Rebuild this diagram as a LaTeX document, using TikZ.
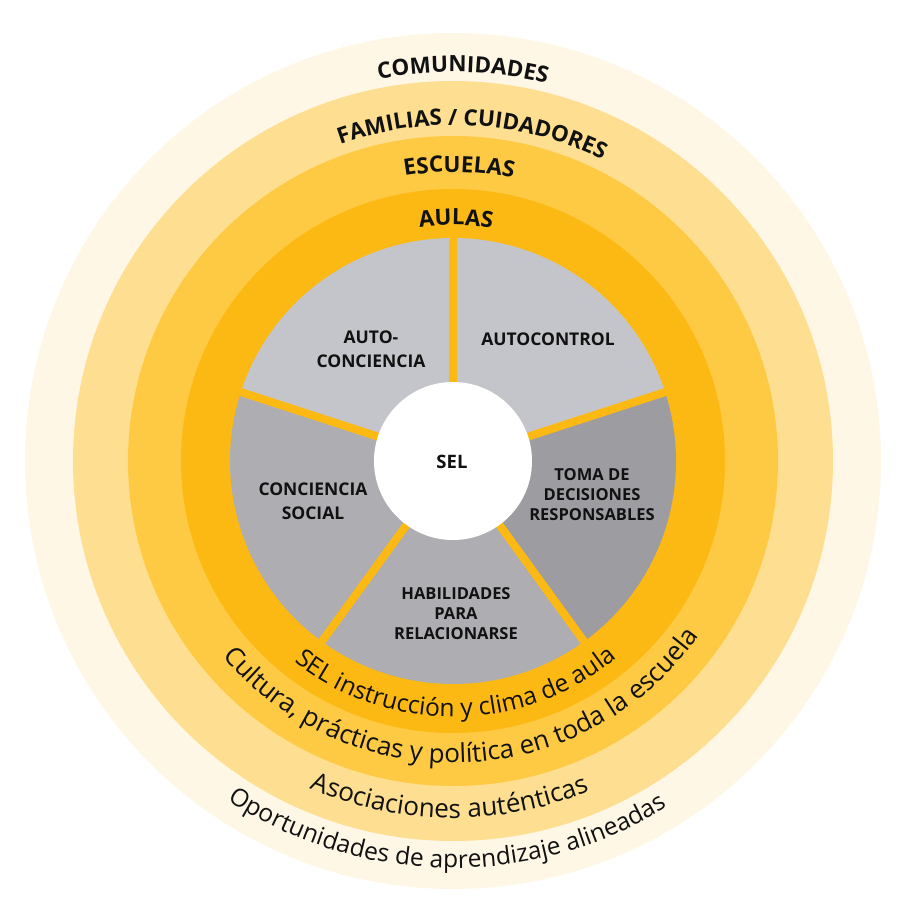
\documentclass[tikz,border=0pt]{standalone}
\usepackage{fontspec}
\setmainfont{Open Sans}
\usetikzlibrary{decorations.text}
\definecolor{ringA}{HTML}{FFF7E6}
\definecolor{ringB}{HTML}{FEDF91}
\definecolor{ringC}{HTML}{FECA44}
\definecolor{ringD}{HTML}{FDB913}
\definecolor{grayL}{HTML}{C4C5CA}
\definecolor{grayM}{HTML}{AEADB2}
\definecolor{grayD}{HTML}{9D9CA1}
\definecolor{ink}{HTML}{111111}
\newcommand\toptxt{\color{ink}\bfseries\fontsize{22.4}{22.4}\selectfont}
\newcommand\bottxt{\color{ink}\fontsize{26}{26}\selectfont}
\newcommand\bottxtsm{\color{ink}\fontsize{24.6}{24.6}\selectfont}
\begin{document}
\begin{tikzpicture}[
  lbl/.style={font=\bfseries\fontsize{17.5}{24.5}\selectfont, align=center, text=ink, inner sep=0pt},
  lbltight/.style={lbl, font=\bfseries\fontsize{16.5}{20}\selectfont},
  toparc/.style={decorate, decoration={text along path, text align=center, text={|\toptxt|#1}}},
  botarc/.style={decorate, decoration={text along path, text align=center, text={|\bottxt|#1}}},
  botarcsm/.style={decorate, decoration={text along path, text align=center, text={|\bottxtsm|#1}}}
]
\useasboundingbox (-453pt,-461pt) rectangle (453pt,461pt);
% rings
\fill[ringA] (0,0) circle[radius=428pt];
\fill[ringB] (0,0) circle[radius=380pt];
\fill[ringC] (0,0) circle[radius=325pt];
\fill[ringD] (0,0) circle[radius=272pt];
% pie slices
\fill[grayL] (0,0) -- (90:223pt) arc[start angle=90, end angle=162, radius=223pt] -- cycle;
\fill[grayL] (0,0) -- (18:223pt) arc[start angle=18, end angle=90, radius=223pt] -- cycle;
\fill[grayD] (0,0) -- (-54:223pt) arc[start angle=-54, end angle=18, radius=223pt] -- cycle;
\fill[grayM] (0,0) -- (-126:223pt) arc[start angle=-126, end angle=-54, radius=223pt] -- cycle;
\fill[grayM] (0,0) -- (162:223pt) arc[start angle=162, end angle=234, radius=223pt] -- cycle;
% gaps
\foreach \a in {90,18,-54,-126,162} \draw[ringD, line width=8pt] (0,0) -- (\a:232pt);
% centre
\fill[white] (0,0) circle[radius=79pt];
\node[lbl, font=\bfseries\fontsize{18.5}{20}\selectfont] (sel) at (-1pt,-1pt) {SEL};
% slice labels
\node[lbl] (autoconc) at (-82pt,112pt) {AUTO-\\CONCIENCIA};
\node[lbl] (autocontrol) at (95pt,122pt) {AUTOCONTROL};
\node[lbltight] (toma) at (139pt,-34pt) {TOMA DE\\DECISIONES\\RESPONSABLES};
\node[lbl] (social) at (-140pt,-40pt) {CONCIENCIA\\SOCIAL};
\node[lbltight] (habil) at (3pt,-153pt) {HABILIDADES\\PARA\\RELACIONARSE};
% top ring titles
\path[toparc={COMUNIDADES}] (178.55:389pt) arc[start angle=178.55, end angle=-1.45, radius=389pt];
\path[toparc={FAMILIAS / CUIDADORES}] (176.6:336pt) arc[start angle=176.6, end angle=-3.4, radius=336pt];
\path[toparc={ESCUELAS}] (178.8:289pt) arc[start angle=178.8, end angle=-1.2, radius=289pt];
\path[toparc={AULAS}] (179.3:236pt) arc[start angle=179.3, end angle=-0.7, radius=236pt];
% bottom ring texts
\path[botarcsm={SEL instrucción y clima de aula}] (180.7:256pt) arc[start angle=180.7, end angle=360.7, radius=256pt];
\path[botarc={Cultura{,} prácticas y política en toda la escuela}] (182.4:302pt) arc[start angle=182.4, end angle=362.4, radius=302pt];
\path[botarc={Asociaciones auténticas}] (179.4:357pt) arc[start angle=179.4, end angle=359.4, radius=357pt];
\path[botarcsm={Oportunidades de aprendizaje alineadas}] (179.1:407pt) arc[start angle=179.1, end angle=359.1, radius=407pt];
\end{tikzpicture}
\end{document}
